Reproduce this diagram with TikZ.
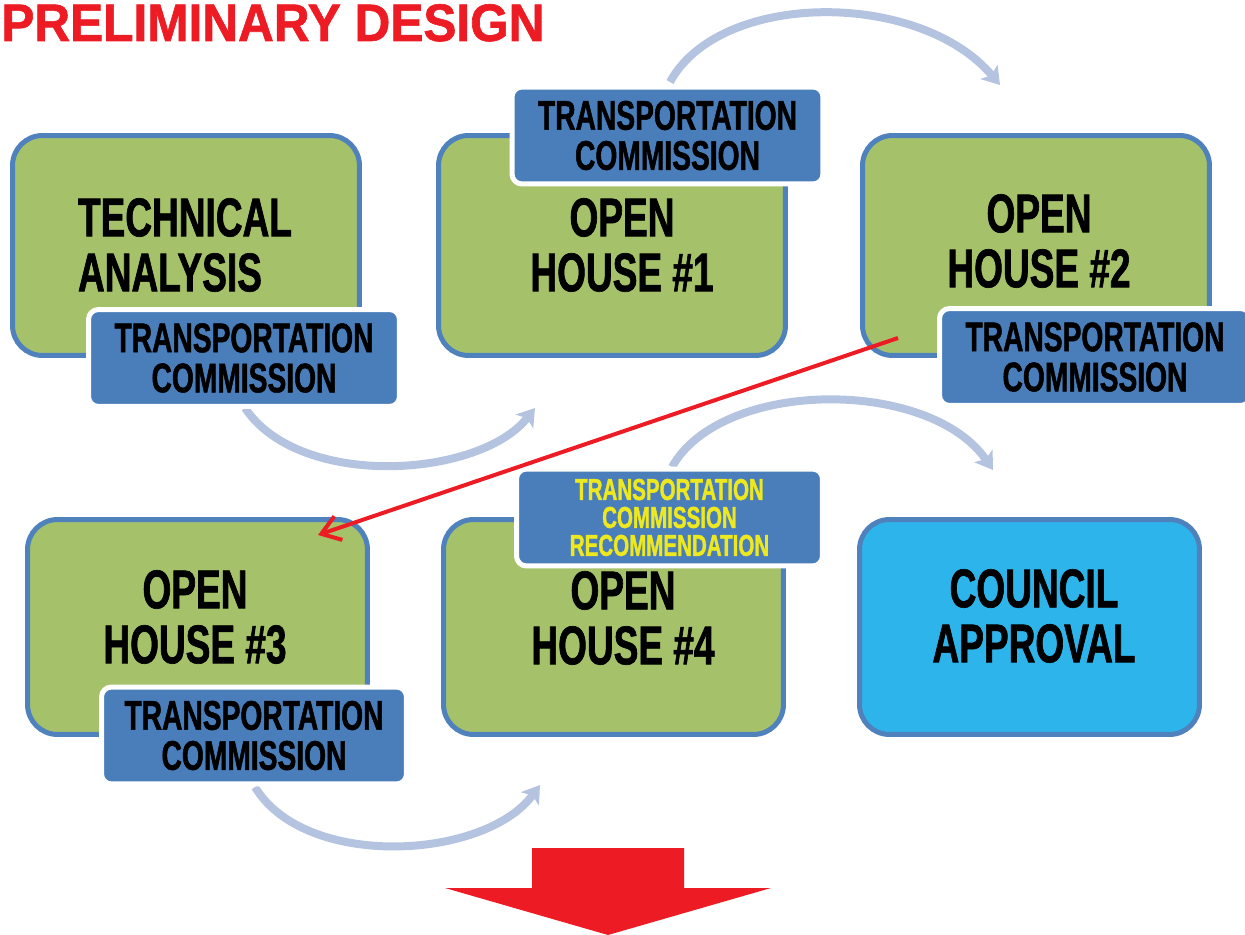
\documentclass[tikz,border=0pt]{standalone}
\usepackage{fontspec}
\newfontfamily\cond{Liberation Sans}[FakeStretch=0.68,FakeBold=1.2]
\newfontfamily\titlefont{Liberation Sans}[FakeStretch=0.94,FakeBold=1.2]
\usetikzlibrary{arrows.meta}
\definecolor{boxgreen}{HTML}{A5C26A}
\definecolor{boxborder}{HTML}{4F81BD}
\definecolor{labelblue}{HTML}{4A7EBB}
\definecolor{councilblue}{HTML}{2DB5EB}
\definecolor{arcblue}{HTML}{B4C4E0}
\definecolor{alertred}{HTML}{ED1C24}
\definecolor{labelyellow}{HTML}{EEE81E}
\tikzset{
  stagebox/.style={draw=boxborder, fill=boxgreen, line width=0.1cm, rounded corners=0.6cm,
    minimum width=6.94cm, minimum height=4.4cm, inner sep=0pt},
  stageboxlow/.style={stagebox, minimum width=6.8cm, minimum height=4.3cm},
  bigtext/.style={font=\cond\bfseries\fontsize{31}{31.3}\selectfont, align=center, inner sep=0pt, text=black},
  tclabel/.style={draw=white, fill=labelblue, line width=0.1cm, rounded corners=0.2cm,
    minimum width=6.22cm, minimum height=1.94cm, inner sep=0pt, align=center,
    font=\cond\bfseries\fontsize{23.6}{22.8}\selectfont, text=black},
  recolabel/.style={tclabel, font=\cond\bfseries\fontsize{17.2}{15.9}\selectfont, text=labelyellow},
  flowarc/.style={draw=arcblue, line width=0.16cm, -{Stealth[length=0.34cm,width=0.44cm,inset=0.08cm]}},
}
\begin{document}
\begin{tikzpicture}[x=0.02cm, y=-0.02cm]
\useasboundingbox (0,0) rectangle (1245,935);

% title
\node[anchor=base west, inner sep=0pt, text=alertred, font=\titlefont\bfseries\fontsize{30}{31}\selectfont] (title) at (1,41) {PRELIMINARY DESIGN};

% arc endpoints
\coordinate (a1s) at (245,408);
\coordinate (a1e) at (535,408);
\coordinate (a2s) at (670,82);
\coordinate (a2e) at (1000,85);
\coordinate (a3s) at (672,467);
\coordinate (a3e) at (993,470);
\coordinate (a4s) at (255,787);
\coordinate (a4e) at (540,785);

\draw[flowarc] (a1s) .. controls (300,490) and (480,478) .. (a1e);
\draw[flowarc] (a2s) .. controls (720,-10) and (920,-10) .. (a2e);
\draw[flowarc] (a3s) .. controls (722,378) and (930,378) .. (a3e);
\draw[flowarc] (a4s) .. controls (305,870) and (485,860) .. (a4e);

% stage boxes
\node[stagebox] (ta)  at (186,245.5) {};
\node[stagebox] (oh1) at (612,245.5) {};
\node[stagebox] (oh2) at (1036,245.5) {};
\node[stageboxlow] (oh3) at (197.5,627) {};
\node[stageboxlow] (oh4) at (613.5,627) {};
\node[stageboxlow, fill=councilblue] (ca) at (1029.5,627) {};

% stage texts
\node[bigtext, align=left] (ta-t) at (185,245) {TECHNICAL\\ANALYSIS};
\node[bigtext] (oh1-t) at (622,245) {OPEN\\HOUSE \#1};
\node[bigtext] (oh2-t) at (1039,241) {OPEN\\HOUSE \#2};
\node[bigtext] (oh3-t) at (195,617) {OPEN\\HOUSE \#3};
\node[bigtext] (oh4-t) at (623,618) {OPEN\\HOUSE \#4};
\node[bigtext] (ca-t) at (1034,616) {COUNCIL\\APPROVAL};

% commission labels
\node[tclabel] (l1) at (244,358) {TRANSPORTATION\\COMMISSION};
\node[tclabel] (l2) at (667.5,135.5) {TRANSPORTATION\\COMMISSION};
\node[tclabel] (l3) at (1095,357) {TRANSPORTATION\\COMMISSION};
\node[tclabel, minimum width=6.1cm] (l4) at (254,735.5) {TRANSPORTATION\\COMMISSION};
\node[recolabel, minimum width=6.12cm] (l5) at (669.5,517.5) {TRANSPORTATION\\COMMISSION\\RECOMMENDATION};

% red connector
\coordinate (rs) at (898,338);
\coordinate (re) at (318,535);
\draw[alertred, line width=0.08cm, -{Straight Barb[length=0.36cm,width=0.5cm]}] (rs) -- (re);

% big red arrow
\fill[alertred] (532,848) -- (684,848) -- (684,888) -- (771,888) -- (608,935) -- (445,888) -- (532,888) -- cycle;
\end{tikzpicture}
\end{document}
